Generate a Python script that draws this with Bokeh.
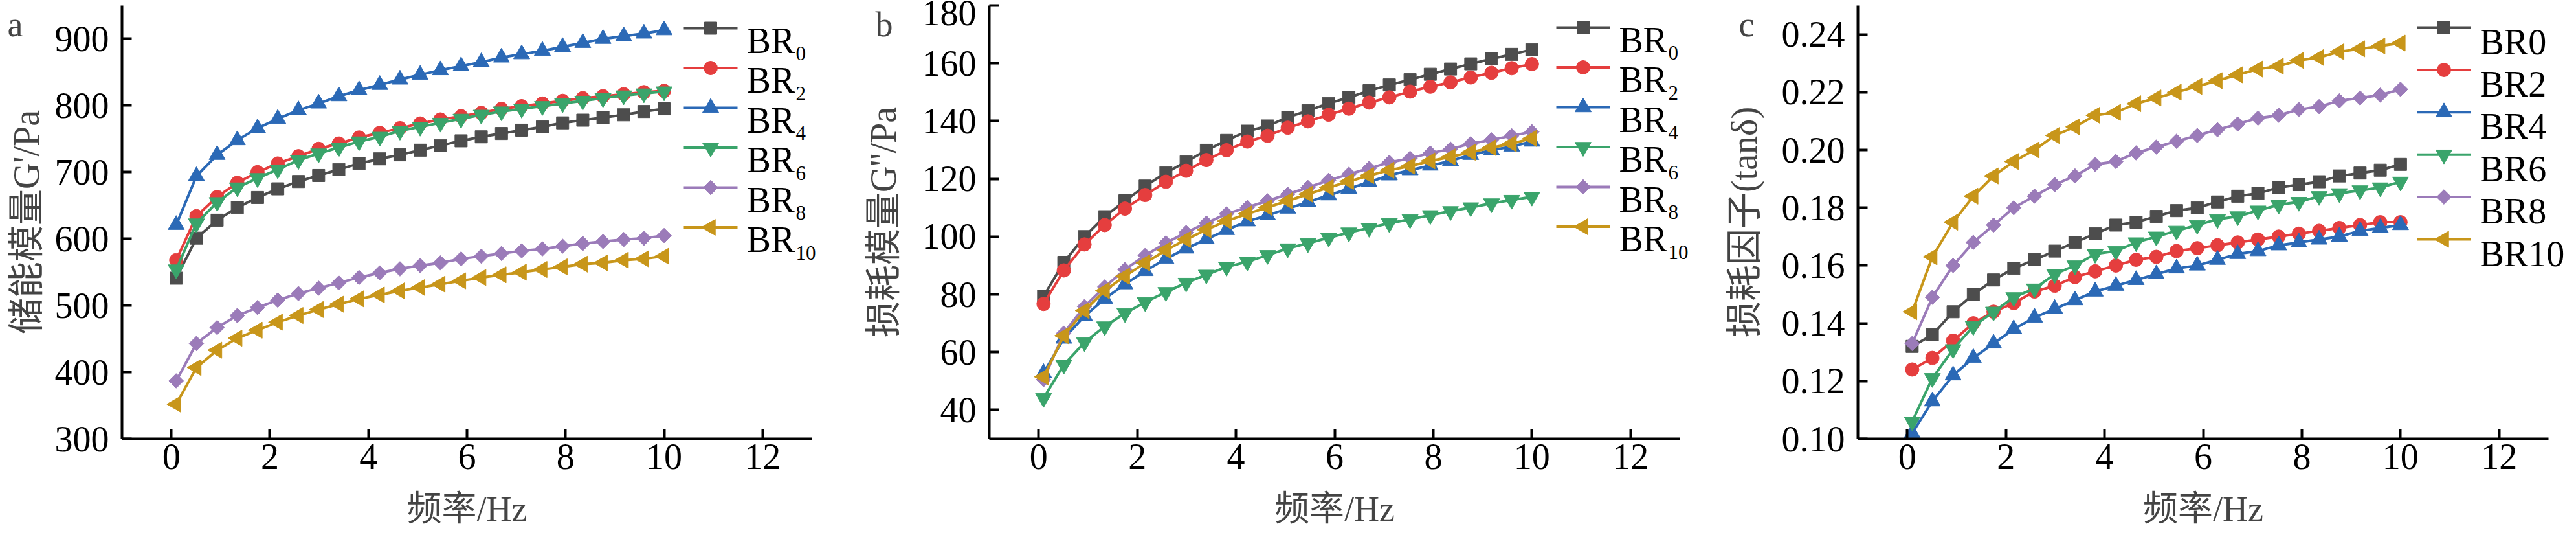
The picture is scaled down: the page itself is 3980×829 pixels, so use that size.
import math
from bokeh.plotting import figure
from bokeh.models import Range1d, FixedTicker, NumeralTickFormatter, Label
from bokeh.layouts import row
from bokeh.embed import file_html
from bokeh.resources import INLINE

# ---------------- data ----------------
freq = [0.10, 0.51, 0.93, 1.34, 1.75, 2.16, 2.58, 2.99, 3.40, 3.81, 4.23, 4.64, 5.05,
        5.46, 5.88, 6.29, 6.70, 7.11, 7.53, 7.94, 8.35, 8.76, 9.18, 9.59, 10.00]

series_names = ["BR0", "BR2", "BR4", "BR6", "BR8", "BR10"]
series_subscripts = ["0", "2", "4", "6", "8", "10"]

x_ticks = [0, 2, 4, 6, 8, 10, 12]
storage_ticks = [300, 400, 500, 600, 700, 800, 900]
loss_ticks = [40, 60, 80, 100, 120, 140, 160, 180]
tan_ticks = [0.10, 0.12, 0.14, 0.16, 0.18, 0.20, 0.22, 0.24]

# storage modulus G' (Pa)
storage_BR0 = [541, 601, 628, 647, 662, 675, 686, 695, 704, 713, 720, 726, 733, 740, 747, 753, 758, 763, 768, 774, 778, 782, 786, 791, 795]
storage_BR2 = [568, 634, 663, 684, 700, 713, 724, 735, 743, 752, 759, 766, 773, 779, 784, 789, 795, 799, 803, 807, 811, 814, 817, 820, 822]
storage_BR4 = [621, 694, 726, 748, 766, 780, 793, 803, 814, 823, 831, 839, 846, 853, 859, 865, 872, 877, 882, 888, 894, 900, 904, 908, 913]
storage_BR6 = [554, 623, 655, 677, 691, 704, 718, 728, 737, 746, 753, 762, 768, 774, 780, 786, 791, 795, 799, 803, 807, 811, 815, 818, 821]
storage_BR8 = [387, 443, 467, 485, 497, 508, 518, 526, 534, 542, 549, 555, 560, 564, 570, 574, 578, 582, 585, 589, 593, 596, 599, 601, 605]
storage_BR10 = [352, 407, 433, 451, 463, 475, 485, 494, 502, 510, 516, 522, 527, 532, 537, 542, 546, 550, 554, 558, 562, 564, 568, 570, 574]

# loss modulus G'' (Pa)
loss_BR0 = [79.4, 91.1, 100.0, 106.9, 112.4, 117.5, 122.1, 125.9, 129.9, 133.3, 136.5, 138.3, 141.3, 143.6, 146.1, 148.2, 150.5, 152.5, 154.3, 156.2, 158.0, 159.8, 161.5, 163.1, 164.7]
loss_BR2 = [76.7, 88.3, 97.3, 104.0, 109.7, 114.4, 119.0, 122.8, 126.5, 129.9, 132.9, 134.9, 137.7, 139.9, 142.2, 144.3, 146.4, 148.2, 150.2, 151.9, 153.4, 155.1, 156.7, 158.3, 159.7]
loss_BR4 = [52.8, 64.7, 72.5, 78.5, 83.5, 88.1, 92.3, 95.9, 99.1, 102.3, 105.3, 107.4, 109.7, 112.0, 114.3, 116.6, 118.9, 121.2, 123.0, 124.6, 126.2, 128.3, 129.9, 131.2, 132.9]
loss_BR6 = [44.1, 55.6, 63.4, 68.9, 73.5, 77.3, 80.8, 84.0, 86.8, 89.5, 91.3, 93.6, 95.9, 97.7, 99.6, 101.4, 103.0, 104.6, 106.0, 107.4, 108.8, 110.1, 111.5, 112.7, 113.8]
loss_BR8 = [50.5, 66.6, 75.8, 82.6, 88.6, 93.5, 97.8, 101.4, 104.7, 107.9, 110.1, 112.4, 114.7, 117.0, 119.5, 121.6, 123.6, 125.7, 127.1, 128.9, 130.3, 132.2, 133.5, 134.9, 136.3]
loss_BR10 = [51.5, 65.7, 74.4, 81.3, 86.3, 90.9, 95.3, 99.0, 102.4, 105.4, 107.9, 110.1, 112.4, 114.7, 117.0, 119.1, 121.1, 123.0, 124.4, 126.2, 127.6, 129.2, 130.8, 132.2, 134.0]

# loss factor tan(delta)
tan_BR0 = [0.132, 0.136, 0.144, 0.150, 0.155, 0.159, 0.162, 0.165, 0.168, 0.171, 0.174, 0.175, 0.177, 0.179, 0.180, 0.182, 0.184, 0.185, 0.187, 0.188, 0.189, 0.191, 0.192, 0.193, 0.195]
tan_BR2 = [0.124, 0.128, 0.134, 0.140, 0.144, 0.147, 0.151, 0.153, 0.156, 0.158, 0.160, 0.162, 0.163, 0.165, 0.166, 0.167, 0.168, 0.169, 0.170, 0.171, 0.172, 0.173, 0.174, 0.175, 0.175]
tan_BR4 = [0.102, 0.113, 0.122, 0.128, 0.133, 0.138, 0.142, 0.145, 0.148, 0.151, 0.153, 0.155, 0.157, 0.159, 0.160, 0.162, 0.164, 0.165, 0.167, 0.168, 0.169, 0.170, 0.172, 0.173, 0.174]
tan_BR6 = [0.106, 0.121, 0.131, 0.139, 0.144, 0.149, 0.152, 0.157, 0.160, 0.164, 0.165, 0.168, 0.170, 0.172, 0.174, 0.176, 0.177, 0.179, 0.181, 0.182, 0.184, 0.185, 0.186, 0.187, 0.189]
tan_BR8 = [0.133, 0.149, 0.160, 0.168, 0.174, 0.180, 0.184, 0.188, 0.191, 0.195, 0.196, 0.199, 0.201, 0.203, 0.205, 0.207, 0.209, 0.211, 0.212, 0.214, 0.215, 0.217, 0.218, 0.219, 0.221]
tan_BR10 = [0.144, 0.163, 0.175, 0.184, 0.191, 0.196, 0.200, 0.205, 0.208, 0.212, 0.213, 0.216, 0.218, 0.220, 0.222, 0.224, 0.226, 0.228, 0.229, 0.231, 0.232, 0.234, 0.235, 0.236, 0.237]

# ---------------- styles ----------------
COLORS = ["#4d4d4d", "#e53e3e", "#2b69b6", "#3aa46b", "#9b7bb9", "#c8961a"]
MARKERS = [("square", 19, 0.0), ("circle", 21, 0.0), ("triangle", 25, 0.0),
           ("inverted_triangle", 25, 0.0), ("square", 16, math.pi / 4), ("triangle", 25, math.pi / 2)]
SERIF = "Liberation Serif"
MIXED = "'Liberation Serif', 'Noto Sans CJK SC'"
FS = "56px"
FIG_H = 813
AX_TOP, AX_BOTTOM = 8, 677          # pixel rows (from canvas top) of the axes box
X_LIM = (-1, 13)
KEY_LEN, KEY_GAP = 83, 14


def panel(ydata, ylim, yticks, ylabel, letter, width, ax_left, ax_right,
          key_x, key_y0, pitch, text_drop, subscripted, ylabel_x, letter_x, two_dec=False):
    # ranges chosen so that the axes box sits at the given pixel positions of a full-canvas frame
    sx = (ax_right - ax_left) / (X_LIM[1] - X_LIM[0])
    sy = (AX_BOTTOM - AX_TOP) / (ylim[1] - ylim[0])
    x0r = X_LIM[0] - ax_left / sx
    y1r = ylim[1] + AX_TOP / sy
    xr = Range1d(x0r, X_LIM[1] + (width - ax_right) / sx)
    yr = Range1d(ylim[0] - (FIG_H - AX_BOTTOM) / sy, y1r)

    def px_to_data(px, py):
        return x0r + px / sx, y1r - py / sy

    p = figure(width=width, height=FIG_H, min_border=0, min_border_left=0, min_border_right=0,
               min_border_top=0, min_border_bottom=0, x_range=xr, y_range=yr,
               output_backend="svg", toolbar_location=None)
    p.outline_line_color = None
    p.xgrid.visible = False
    p.ygrid.visible = False
    p.background_fill_color = "white"
    p.border_fill_color = "white"

    xa = p.xaxis[0]
    ya = p.yaxis[0]
    xa.fixed_location = ylim[0]
    ya.fixed_location = X_LIM[0]
    xa.bounds = X_LIM
    ya.bounds = ylim
    xa.ticker = FixedTicker(ticks=x_ticks)
    ya.ticker = FixedTicker(ticks=yticks)
    if two_dec:
        ya.formatter = NumeralTickFormatter(format="0.00")
    for ax in (xa, ya):
        ax.axis_line_width = 4
        ax.axis_line_color = "black"
        ax.major_tick_line_width = 4
        ax.major_tick_line_color = "black"
        ax.major_tick_in = 15
        ax.major_tick_out = 0
        ax.minor_tick_in = 0
        ax.minor_tick_out = 0
        ax.major_label_text_font = SERIF
        ax.major_label_text_font_size = FS
        ax.major_label_text_color = "black"
    xa.major_label_standoff = 8
    ya.major_label_standoff = 20

    for i, ys in enumerate(ydata):
        c = COLORS[i]
        mk, sz, ang = MARKERS[i]
        p.line(freq, ys, line_color=c, line_width=4)
        p.scatter(freq, ys, marker=mk, size=sz, angle=ang, fill_color=c, line_color=c)

        # legend key (line + marker) and its text
        cy = key_y0 + pitch * i
        (lx0, ly), (lx1, _) = px_to_data(key_x, cy), px_to_data(key_x + KEY_LEN, cy)
        mx, _ = px_to_data(key_x + KEY_LEN / 2, cy)
        p.line([lx0, lx1], [ly, ly], line_color=c, line_width=4)
        p.scatter([mx], [ly], marker=mk, size=sz, angle=ang, fill_color=c, line_color=c)
        tx = key_x + KEY_LEN + KEY_GAP
        p.add_layout(Label(x=tx, y=FIG_H - (cy + text_drop), x_units="screen", y_units="screen",
                           text="BR" if subscripted else series_names[i],
                           text_font=SERIF, text_font_size=FS, text_baseline="alphabetic",
                           text_align="left", text_color="black"))
        if subscripted:
            p.add_layout(Label(x=tx + 76, y=FIG_H - (cy + 39), x_units="screen", y_units="screen",
                               text=series_subscripts[i], text_font=SERIF, text_font_size="31px",
                               text_baseline="alphabetic", text_align="left", text_color="black"))

    # axis titles and panel letter (screen units, origin at bottom-left of canvas)
    p.add_layout(Label(x=ylabel_x, y=FIG_H - (AX_TOP + AX_BOTTOM) / 2, x_units="screen",
                       y_units="screen", text=ylabel, angle=math.pi / 2, text_align="center",
                       text_baseline="middle", text_font=MIXED, text_font_size=FS))
    p.add_layout(Label(x=(ax_left + ax_right) / 2, y=28, x_units="screen", y_units="screen",
                       text="频率/Hz", text_align="center", text_baseline="alphabetic",
                       text_font=MIXED, text_font_size="54px"))
    p.add_layout(Label(x=letter_x, y=FIG_H - 37, x_units="screen", y_units="screen",
                       text=letter, text_align="left", text_baseline="alphabetic",
                       text_font=SERIF, text_font_size="54px"))
    return p


pa = panel([storage_BR0, storage_BR2, storage_BR4, storage_BR6, storage_BR8, storage_BR10],
           (300, 950), storage_ticks, "储能模量G'/Pa", "a", 1322, 188, 1254,
           1056, 43, 61.5, 19, True, 40, 11)
pb = panel([loss_BR0, loss_BR2, loss_BR4, loss_BR6, loss_BR8, loss_BR10],
           (30, 180), loss_ticks, "损耗模量G''/Pa", "b", 1330, 206, 1273,
           1082, 42, 61.5, 19, True, 42, 30)
pc = panel([tan_BR0, tan_BR2, tan_BR4, tan_BR6, tan_BR8, tan_BR10],
           (0.10, 0.25), tan_ticks, "损耗因子(tanδ)", "c", 1312, 218, 1285,
           1082, 42, 65.4, 22, False, 42, 34, two_dec=True)

layout = row(pa, pb, pc)
open("out.html", "w").write(file_html(layout, INLINE))
